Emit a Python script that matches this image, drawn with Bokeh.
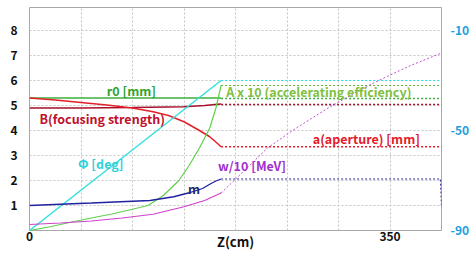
from bokeh.plotting import figure
from bokeh.models import Range1d, LinearAxis, FixedTicker, Label
from bokeh.embed import file_html
from bokeh.resources import INLINE

# ---- data (z in cm) ----
# r0 [mm]
r0_z = [0, 186]
r0_v = [5.3, 5.3]
r0_zd = [186, 400]
r0_vd = [5.28, 5.28]

# B (focusing strength)
b_z = [0, 50, 100, 150, 170, 180, 186]
b_v = [4.9, 4.9, 4.92, 4.95, 5.0, 5.04, 5.06]
b_zd = [186, 400]
b_vd = [5.04, 5.04]

# a (aperture) [mm]
a_z = [0, 25, 50, 75, 100, 120, 135, 150, 165, 175, 182, 186]
a_v = [5.3, 5.22, 5.12, 5.02, 4.9, 4.75, 4.6, 4.35, 4.0, 3.75, 3.5, 3.35]
a_zd = [186, 400]
a_vd = [3.35, 3.35]

# A x 10 (accelerating efficiency)
acc_z = [0, 20, 40, 60, 80, 100, 115, 130, 145, 155, 165, 175, 181, 186]
acc_v = [0, 0.15, 0.33, 0.5, 0.66, 0.85, 1.0, 1.4, 2.0, 2.6, 3.3, 4.1, 4.9, 5.8]
acc_zd = [186, 400]
acc_vd = [5.8, 5.8]

# Phi [deg] (right axis)
phi_z = [0, 186]
phi_v = [-90, -30]
phi_zd = [186, 400]
phi_vd = [-30, -30]

# w/10 [MeV]
w_z = [0, 30, 60, 90, 120, 150, 170, 186]
w_v = [0.24, 0.3, 0.38, 0.5, 0.65, 0.95, 1.2, 1.5]
w_zd = [186, 210, 231, 259, 290, 320, 339, 370, 400]
w_vd = [1.5, 2.45, 3.3, 4.1, 4.9, 5.6, 6.0, 6.6, 7.1]

# m
m_z = [0, 60, 117, 140, 156, 168, 175, 181, 186]
m_v = [1.0, 1.1, 1.2, 1.35, 1.52, 1.68, 1.85, 1.98, 2.06]
m_zd = [186, 399, 400]
m_vd = [2.06, 2.06, 1.0]

left_ticks = [1, 2, 3, 4, 5, 6, 7, 8]
right_ticks = [-10, -50, -90]
x_ticks = [0, 350]
x_grid = [50, 100, 150, 200, 250, 300, 350]

FONT = "Noto Sans CJK KR"

p = figure(width=472, height=256, output_backend="svg", toolbar_location=None,
           x_range=Range1d(0, 400), y_range=Range1d(0, 8.92),
           min_border_left=29, min_border_right=29, min_border_top=7, min_border_bottom=26)
p.extra_y_ranges = {"phi": Range1d(-90, -0.8)}

p.outline_line_color = "#a8a8a8"
p.background_fill_color = "white"

# grids
p.xgrid.ticker = FixedTicker(ticks=x_grid)
p.ygrid.ticker = FixedTicker(ticks=left_ticks)
for g in (p.xgrid, p.ygrid):
    g.grid_line_color = "#c4c4c4"
    g.grid_line_dash = "2 2"
    g.grid_line_width = 1

xax = p.xaxis[0]
lax = p.yaxis[0]
xax.ticker = FixedTicker(ticks=x_ticks)
lax.ticker = FixedTicker(ticks=left_ticks)

rax = LinearAxis(y_range_name="phi", ticker=FixedTicker(ticks=right_ticks))
rax.major_label_overrides = {-10: "-10", -50: "-50", -90: "-90"}
p.add_layout(rax, "right")

for ax in (xax, lax, rax):
    ax.axis_line_color = None
    ax.major_tick_line_color = None
    ax.minor_tick_line_color = None
    ax.major_tick_out = 0
    ax.major_tick_in = 0
    ax.minor_tick_out = 0
    ax.minor_tick_in = 0
    ax.major_label_text_font = FONT
    ax.major_label_text_font_style = "bold"
    ax.major_label_text_font_size = "12px"
    ax.major_label_text_color = "#111111"
xax.major_label_standoff = 1
lax.major_label_standoff = 12
rax.major_label_text_color = "#1e9ee0"
rax.major_label_standoff = 9

xax.axis_label = "Z(cm)"
xax.axis_label_text_font = FONT
xax.axis_label_text_font_style = "bold"
xax.axis_label_text_font_size = "13px"
xax.axis_label_text_color = "#111111"
xax.axis_label_standoff = -12

DOT = "2 2"
# lines
p.line(r0_z, r0_v, line_color="#3cb03c", line_width=1.5)
p.line(r0_zd, r0_vd, line_color="#3cb03c", line_width=1.3, line_dash=DOT)

p.line(b_z, b_v, line_color="#a8102c", line_width=1.5)
p.line(b_zd, b_vd, line_color="#a8102c", line_width=1.4, line_dash=DOT)

p.line(a_z, a_v, line_color="#e3202a", line_width=1.5)
p.line(a_zd, a_vd, line_color="#e3202a", line_width=1.6, line_dash=DOT)

p.line(acc_z, acc_v, line_color="#5fd04a", line_width=1.2)
p.line(acc_zd, acc_vd, line_color="#5fb83a", line_width=1.2, line_dash=DOT)

p.line(phi_z, phi_v, line_color="#30e0e0", line_width=1.4, y_range_name="phi")
p.line(phi_zd, phi_vd, line_color="#30e0e0", line_width=1.2, line_dash=DOT, y_range_name="phi")

p.line(w_z, w_v, line_color="#d040d0", line_width=1.2)
p.line(w_zd, w_vd, line_color="#c050d0", line_width=1.0, line_dash=DOT)

p.line(m_z, m_v, line_color="#2020a0", line_width=1.3)
p.line(m_zd, m_vd, line_color="#3030a0", line_width=1.2, line_dash=DOT)

# curve labels
labels = [
    ("r0 [mm]", 75, 5.6, "#2ea52e"),
    ("B(focusing strength)", 9.7, 4.48, "#c0102a"),
    ("A x 10 (accelerating efficiency)", 191, 5.56, "#80c040"),
    ("\u03a6 [deg]", 47, 2.68, "#30d0d8"),
    ("a(aperture) [mm]", 275, 3.68, "#e3202a"),
    ("w/10 [MeV]", 183, 2.6, "#a030d0"),
    ("m", 154, 1.68, "#1f2a6a"),
]
for txt, x, y, c in labels:
    p.add_layout(Label(x=x, y=y, text=txt, text_color=c, text_font=FONT,
                       text_font_size="12.5px", text_font_style="bold",
                       text_align="left", text_baseline="middle"))

open("out.html", "w").write(file_html(p, INLINE))
